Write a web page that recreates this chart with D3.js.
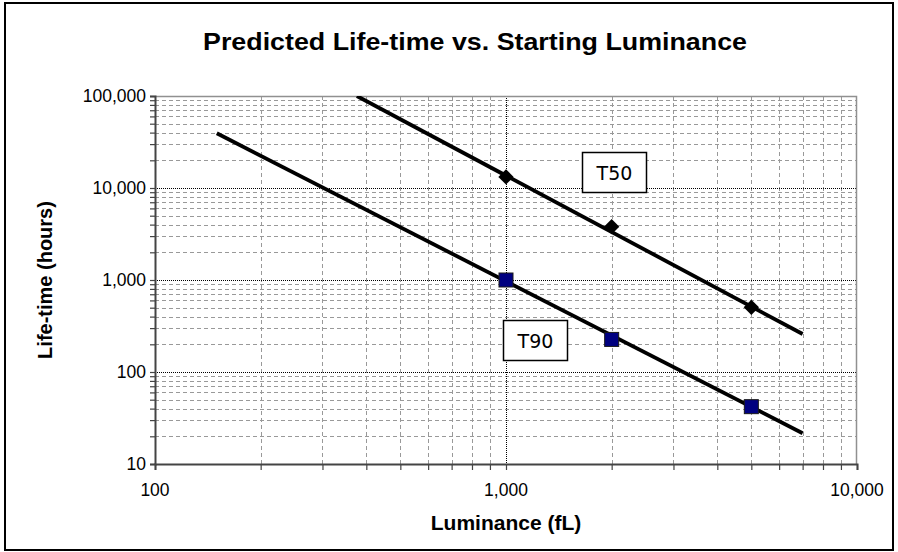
<!DOCTYPE html>
<html>
<head>
<meta charset="utf-8">
<script src="https://cdn.jsdelivr.net/npm/d3@7"></script>
<style>
  body { margin: 0; background: #fff; }
  svg { display: block; }
</style>
</head>
<body>
<div id="viz"></div>
<script>
// fitted lines (end points)
const t50Line = [[376, 100000], [7000, 259]];
const t90Line = [[150, 39400], [7000, 21.6]];
// measured points
const luminance = [1000, 2000, 5000];
const t50Values = [13200, 3800, 505];
const t90Values = [1000, 226, 42];
// label boxes (anchored at their top-left corner, data units)
const boxLabels = [
    { text: 'T50', x: 1645, y: 24400 },
    { text: 'T90', x: 982, y: 367 },
];
const xTicks = [100, 1000, 10000];
const yTicks = [10, 100, 1000, 10000, 100000];

const width = 898;
const height = 552;
const margin = { top: 96, right: 41, bottom: 88, left: 155 };
const fmt = d3.format(',');

const svg = d3
    .select('#viz')
    .append('svg')
    .attr('width', width)
    .attr('height', height);

// chart frame
svg.append('rect')
    .attr('x', 5)
    .attr('y', 3)
    .attr('width', 888)
    .attr('height', 547)
    .attr('fill', '#fff')
    .attr('stroke', '#000')
    .attr('stroke-width', 2);

const xScale = d3.scaleLog()
    .domain([100, 10000])
    .range([margin.left, width - margin.right]);
const yScale = d3.scaleLog()
    .domain([10, 100000])
    .range([height - margin.bottom, margin.top]);

const [x0, x1] = xScale.range();
const [y0, y1] = yScale.range();

// minor + major values for gridlines
const minorX = xScale.ticks().filter((d) => !xTicks.includes(d));
const minorY = yScale.ticks().filter((d) => !yTicks.includes(d));

const grid = svg.append('g').attr('id', 'grid');
grid.selectAll('.vminor')
    .data(minorX)
    .join('line')
    .attr('x1', (d) => Math.round(xScale(d)) + 0.5)
    .attr('x2', (d) => Math.round(xScale(d)) + 0.5)
    .attr('y1', y1)
    .attr('y2', y0)
    .attr('stroke', '#999')
    .attr('stroke-dasharray', '4,3');
grid.selectAll('.hminor')
    .data(minorY)
    .join('line')
    .attr('y1', (d) => Math.round(yScale(d)) + 0.5)
    .attr('y2', (d) => Math.round(yScale(d)) + 0.5)
    .attr('x1', x0)
    .attr('x2', x1)
    .attr('stroke', '#999')
    .attr('stroke-dasharray', '4,3');
grid.selectAll('.hmajor')
    .data(yTicks.slice(1, -1))
    .join('line')
    .attr('y1', (d) => Math.round(yScale(d)) + 0.5)
    .attr('y2', (d) => Math.round(yScale(d)) + 0.5)
    .attr('x1', x0)
    .attr('x2', x1)
    .attr('stroke', '#000')
    .attr('stroke-dasharray', '1,1');
grid.selectAll('.vmajor')
    .data(xTicks.slice(1, -1))
    .join('line')
    .attr('x1', (d) => Math.round(xScale(d)) + 0.5)
    .attr('x2', (d) => Math.round(xScale(d)) + 0.5)
    .attr('y1', y1)
    .attr('y2', y0)
    .attr('stroke', '#000')
    .attr('stroke-dasharray', '1,1');

// plot area border (top / right)
svg.append('path')
    .attr('d', `M${x0},${y1 + 0.5}H${x1 - 0.5}V${y0}`)
    .attr('fill', 'none')
    .attr('stroke', '#909090')
    .attr('stroke-width', 1.5);

// axes
const xAxis = svg.append('g')
    .attr('transform', `translate(0,${y0})`)
    .call(d3.axisBottom(xScale).tickValues(xScale.ticks()).tickSize(6).tickFormat(() => ''));
const yAxis = svg.append('g')
    .attr('transform', `translate(${x0},0)`)
    .call(d3.axisLeft(yScale).tickValues(yScale.ticks()).tickSize(5).tickFormat(() => ''));
[xAxis, yAxis].forEach((a) => {
    a.select('.domain').attr('stroke', '#444').attr('stroke-width', 2);
    a.selectAll('.tick line').attr('stroke', '#444').attr('stroke-width', 1.2);
});

svg.append('g')
    .selectAll('text')
    .data(xTicks)
    .join('text')
    .attr('x', (d) => xScale(d))
    .attr('y', y0 + 32)
    .attr('text-anchor', 'middle')
    .attr('font-family', 'Liberation Sans, Arial, sans-serif')
    .attr('font-size', 17.5)
    .text((d) => fmt(d));

svg.append('g')
    .selectAll('text')
    .data(yTicks)
    .join('text')
    .attr('x', x0 - 9)
    .attr('y', (d) => yScale(d) + 6)
    .attr('text-anchor', 'end')
    .attr('font-family', 'Liberation Sans, Arial, sans-serif')
    .attr('font-size', 17.5)
    .text((d) => fmt(d));

// lines
const line = d3.line()
    .x((d) => xScale(d[0]))
    .y((d) => yScale(d[1]));
svg.append('defs').append('clipPath').attr('id', 'plot-clip')
    .append('rect')
    .attr('x', x0).attr('y', y1)
    .attr('width', x1 - x0).attr('height', y0 - y1);

const series = svg.append('g').attr('clip-path', 'url(#plot-clip)');
[t50Line, t90Line].forEach((pts) => {
    series.append('path')
        .attr('d', line(pts))
        .attr('fill', 'none')
        .attr('stroke', '#000')
        .attr('stroke-width', 3.8);
});

// markers
svg.append('g')
    .selectAll('path')
    .data(luminance)
    .join('path')
    .attr('transform', (d, i) => `translate(${xScale(d)},${yScale(t50Values[i])})`)
    .attr('d', d3.symbol(d3.symbolDiamond2, 150)())
    .attr('fill', '#000');

svg.append('g')
    .selectAll('rect')
    .data(luminance)
    .join('rect')
    .attr('x', (d) => xScale(d) - 7)
    .attr('y', (d, i) => yScale(t90Values[i]) - 7)
    .attr('width', 14)
    .attr('height', 14)
    .attr('fill', '#000080')
    .attr('stroke', '#1a1a1a')
    .attr('stroke-width', 1);

// text boxes
const boxes = svg.append('g')
    .selectAll('g')
    .data(boxLabels)
    .join('g')
    .attr('transform', (d) => `translate(${Math.round(xScale(d.x)) + 0.5},${Math.round(yScale(d.y)) + 0.5})`);
boxes.append('rect')
    .attr('width', 64)
    .attr('height', 40)
    .attr('fill', '#fff')
    .attr('stroke', '#000')
    .attr('stroke-width', 1.5);
boxes.append('text')
    .attr('x', 32)
    .attr('y', 27)
    .attr('text-anchor', 'middle')
    .attr('font-family', 'DejaVu Sans, sans-serif')
    .attr('font-size', 19)
    .text((d) => d.text);

// titles
svg.append('text')
    .attr('x', 475)
    .attr('y', 50)
    .attr('text-anchor', 'middle')
    .attr('font-family', 'Liberation Sans, Arial, sans-serif')
    .attr('font-weight', 'bold')
    .attr('font-size', 24)
    .attr('textLength', 544)
    .attr('lengthAdjust', 'spacingAndGlyphs')
    .text('Predicted  Life-time vs. Starting Luminance');

svg.append('text')
    .attr('x', (x0 + x1) / 2)
    .attr('y', 530)
    .attr('text-anchor', 'middle')
    .attr('font-family', 'Liberation Sans, Arial, sans-serif')
    .attr('font-weight', 'bold')
    .attr('font-size', 21)
    .text('Luminance (fL)');

svg.append('text')
    .attr('transform', `translate(52,${(y0 + y1) / 2}) rotate(-90)`)
    .attr('text-anchor', 'middle')
    .attr('font-family', 'Liberation Sans, Arial, sans-serif')
    .attr('font-weight', 'bold')
    .attr('font-size', 20)
    .text('Life-time (hours)');
</script>
</body>
</html>
